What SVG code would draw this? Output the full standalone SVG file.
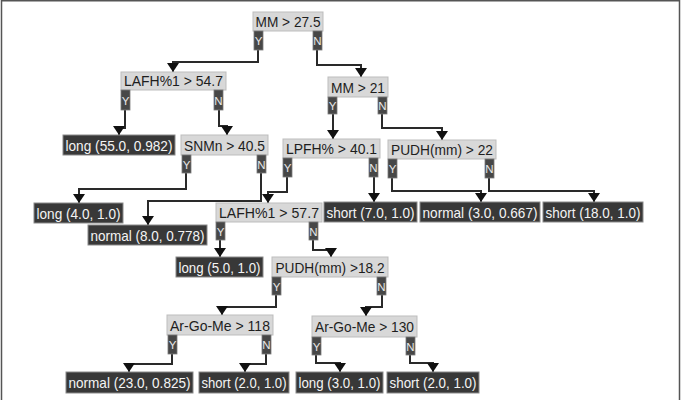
<svg xmlns="http://www.w3.org/2000/svg" width="682" height="400" viewBox="0 0 682 400">
<style>
.bg{fill:#ffffff}
.frame{stroke:#555;stroke-width:1.5;fill:none}
.in rect{fill:#d8d8d8;stroke:#bdbdbd;stroke-width:1}
.in text{fill:#1e1e1e;font-family:"Liberation Sans",Arial,sans-serif;font-size:14.5px;text-anchor:middle}
.leaf rect{fill:#383838;stroke:#8a8a8a;stroke-width:1}
.leaf text{fill:#f4f4f4;font-family:"Liberation Sans",Arial,sans-serif;font-size:14.5px;text-anchor:middle}
.tag rect{fill:#474747;stroke:#7a7a7a;stroke-width:0.8}
.tag text{fill:#e8e8e8;font-family:"Liberation Sans",Arial,sans-serif;font-size:11.5px;text-anchor:middle}
#connectors polyline{fill:none;stroke:#2a2a2a;stroke-width:2;marker-end:url(#arr)}
</style>
<defs>
<marker id="arr" markerUnits="userSpaceOnUse" viewBox="0 -6 9 12" refX="9" refY="0" markerWidth="9" markerHeight="12" orient="auto">
<path d="M0,-6 L9,0 L0,6 z" fill="#111"/>
</marker>
</defs>
<rect class="bg" x="0" y="0" width="682" height="400"/>
<path class="frame" d="M1.5,402 V0.8 H679.5 V402"/>

<g id="connectors">
<polyline points="258,50 258,62 173,62 173,72"/>
<polyline points="317,50 317,65 361,65 361,77"/>
<polyline points="125,110 125,128 119,128 119,135"/>
<polyline points="219,110 219,126 227,126 227,135"/>
<polyline points="333,114 333,139"/>
<polyline points="382,114 382,128 442,128 442,140"/>
<polyline points="186,173 186,189 79,189 79,203"/>
<polyline points="261,173 261,201 148,201 148,225"/>
<polyline points="287,177 287,192 268,192 268,203"/>
<polyline points="374,177 374,202"/>
<polyline points="392,178 392,191 481,191 481,202"/>
<polyline points="489,178 489,191 594,191 594,202"/>
<polyline points="220,240 220,257"/>
<polyline points="313,240 313,250 331,250 331,257"/>
<polyline points="276,295 276,307 222,307 222,315"/>
<polyline points="382,295 382,307 366,307 366,316"/>
<polyline points="172,354 172,364 129,364 129,372"/>
<polyline points="266,354 266,364 245,364 245,372"/>
<polyline points="316,355 316,363 340,363 340,372"/>
<polyline points="410,355 410,363 433,363 433,372"/>
</g>

<g id="n1" class="in"><rect x="253" y="12" width="70" height="19"/><text x="288" y="27" textLength="65" lengthAdjust="spacingAndGlyphs">MM &gt; 27.5</text>
<g class="tag"><rect x="254" y="31" width="9" height="19"/><text x="258.5" y="44.5">Y</text><rect x="313" y="31" width="9" height="19"/><text x="317.5" y="44.5">N</text></g></g>

<g id="n2" class="in"><rect x="121" y="72" width="105" height="18"/><text x="173.5" y="86" textLength="99" lengthAdjust="spacingAndGlyphs">LAFH%1 &gt; 54.7</text>
<g class="tag"><rect x="121" y="90" width="9" height="20"/><text x="125.5" y="104.5">Y</text><rect x="214" y="90" width="9" height="20"/><text x="218.5" y="104.5">N</text></g></g>

<g id="n3" class="in"><rect x="328" y="77" width="60" height="20"/><text x="358" y="92.5" textLength="54" lengthAdjust="spacingAndGlyphs">MM &gt; 21</text>
<g class="tag"><rect x="328" y="97" width="9" height="17"/><text x="332.5" y="110">Y</text><rect x="378" y="97" width="9" height="17"/><text x="382.5" y="110">N</text></g></g>

<g id="n4" class="in"><rect x="181" y="135" width="87" height="20"/><text x="224.5" y="150.5" textLength="81" lengthAdjust="spacingAndGlyphs">SNMn &gt; 40.5</text>
<g class="tag"><rect x="182" y="155" width="9" height="18"/><text x="186.5" y="168.5">Y</text><rect x="257" y="155" width="9" height="18"/><text x="261.5" y="168.5">N</text></g></g>

<g id="n5" class="in"><rect x="283" y="139" width="97" height="19"/><text x="331.5" y="154" textLength="91" lengthAdjust="spacingAndGlyphs">LPFH% &gt; 40.1</text>
<g class="tag"><rect x="283" y="158" width="9" height="19"/><text x="287.5" y="172">Y</text><rect x="369" y="158" width="9" height="19"/><text x="373.5" y="172">N</text></g></g>

<g id="n6" class="in"><rect x="388" y="140" width="108" height="19"/><text x="442" y="155" textLength="102" lengthAdjust="spacingAndGlyphs">PUDH(mm) &gt; 22</text>
<g class="tag"><rect x="388" y="159" width="9" height="19"/><text x="392.5" y="173">Y</text><rect x="485" y="159" width="9" height="19"/><text x="489.5" y="173">N</text></g></g>

<g id="n7" class="in"><rect x="216" y="203" width="106" height="19"/><text x="269" y="218" textLength="100" lengthAdjust="spacingAndGlyphs">LAFH%1 &gt; 57.7</text>
<g class="tag"><rect x="216" y="222" width="9" height="18"/><text x="220.5" y="235.5">Y</text><rect x="309" y="222" width="9" height="18"/><text x="313.5" y="235.5">N</text></g></g>

<g id="n8" class="in"><rect x="272" y="257" width="116" height="20"/><text x="330" y="272.5" textLength="109" lengthAdjust="spacingAndGlyphs">PUDH(mm) &gt;18.2</text>
<g class="tag"><rect x="272" y="277" width="9" height="18"/><text x="276.5" y="290.5">Y</text><rect x="377" y="277" width="9" height="18"/><text x="381.5" y="290.5">N</text></g></g>

<g id="n9" class="in"><rect x="167" y="315" width="106" height="20"/><text x="220" y="330.5" textLength="100" lengthAdjust="spacingAndGlyphs">Ar-Go-Me &gt; 118</text>
<g class="tag"><rect x="168" y="335" width="9" height="19"/><text x="172.5" y="349">Y</text><rect x="262" y="335" width="9" height="19"/><text x="266.5" y="349">N</text></g></g>

<g id="n10" class="in"><rect x="312" y="316" width="105" height="21"/><text x="364.5" y="332" textLength="99" lengthAdjust="spacingAndGlyphs">Ar-Go-Me &gt; 130</text>
<g class="tag"><rect x="312" y="337" width="9" height="18"/><text x="316.5" y="350.5">Y</text><rect x="406" y="337" width="9" height="18"/><text x="410.5" y="350.5">N</text></g></g>

<g id="l1" class="leaf"><rect x="63" y="135" width="112" height="20"/><text x="119" y="150.5" textLength="107" lengthAdjust="spacingAndGlyphs">long (55.0, 0.982)</text></g>
<g id="l2" class="leaf"><rect x="34" y="203" width="89" height="20"/><text x="78.5" y="218.5" textLength="84" lengthAdjust="spacingAndGlyphs">long (4.0, 1.0)</text></g>
<g id="l3" class="leaf"><rect x="88" y="225" width="119" height="20"/><text x="147.5" y="240.5" textLength="114" lengthAdjust="spacingAndGlyphs">normal (8.0, 0.778)</text></g>
<g id="l4" class="leaf"><rect x="324" y="202" width="93" height="20"/><text x="370.5" y="217.5" textLength="88" lengthAdjust="spacingAndGlyphs">short (7.0, 1.0)</text></g>
<g id="l5" class="leaf"><rect x="420" y="202" width="120" height="20"/><text x="480" y="217.5" textLength="115" lengthAdjust="spacingAndGlyphs">normal (3.0, 0.667)</text></g>
<g id="l6" class="leaf"><rect x="543" y="202" width="100" height="20"/><text x="593" y="217.5" textLength="95" lengthAdjust="spacingAndGlyphs">short (18.0, 1.0)</text></g>
<g id="l7" class="leaf"><rect x="176" y="257" width="87" height="20"/><text x="219.5" y="272.5" textLength="82" lengthAdjust="spacingAndGlyphs">long (5.0, 1.0)</text></g>
<g id="l8" class="leaf"><rect x="66" y="372" width="127" height="21"/><text x="129.5" y="388" textLength="122" lengthAdjust="spacingAndGlyphs">normal (23.0, 0.825)</text></g>
<g id="l9" class="leaf"><rect x="199" y="372" width="90" height="21"/><text x="244" y="388" textLength="85" lengthAdjust="spacingAndGlyphs">short (2.0, 1.0)</text></g>
<g id="l10" class="leaf"><rect x="296" y="372" width="87" height="21"/><text x="339.5" y="388" textLength="82" lengthAdjust="spacingAndGlyphs">long (3.0, 1.0)</text></g>
<g id="l11" class="leaf"><rect x="387" y="372" width="92" height="21"/><text x="433" y="388" textLength="87" lengthAdjust="spacingAndGlyphs">short (2.0, 1.0)</text></g>
</svg>
